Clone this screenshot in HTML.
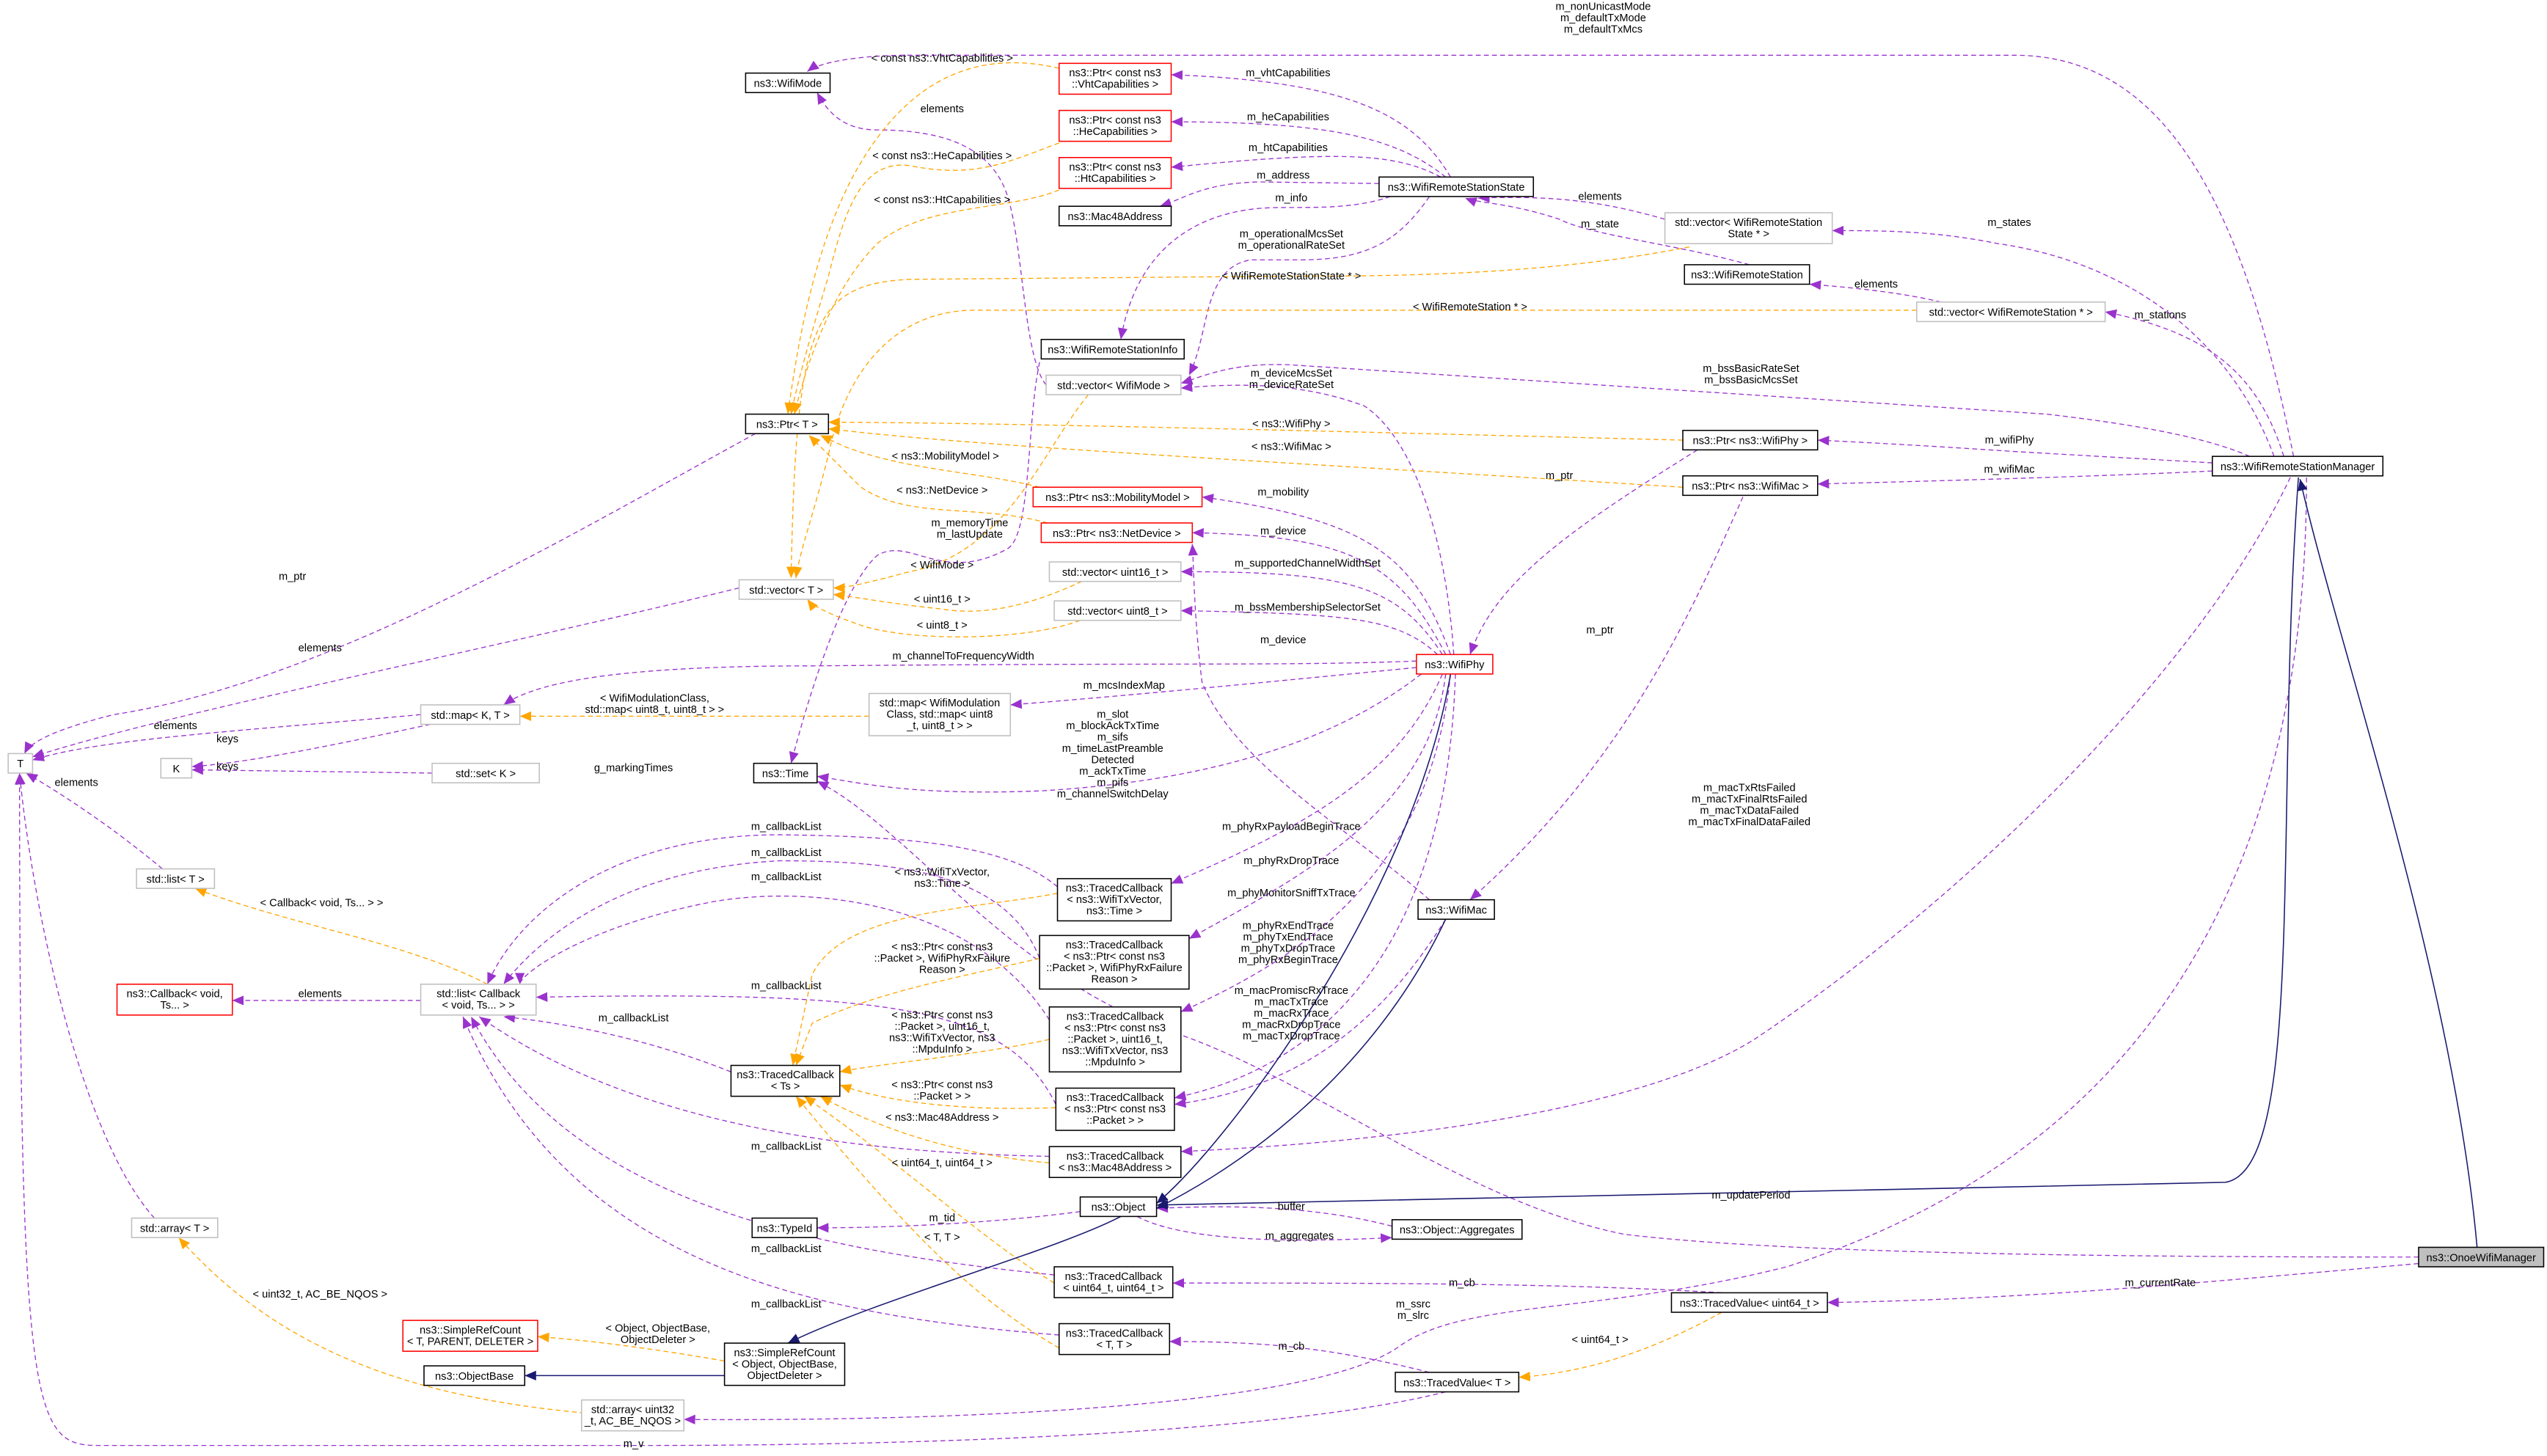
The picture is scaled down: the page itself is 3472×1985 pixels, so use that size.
<!DOCTYPE html>
<html><head><meta charset="utf-8"><style>
html,body{margin:0;padding:0;background:#fff;}
svg{display:block;}
text{font-family:"Liberation Sans",sans-serif;font-size:6.6px;fill:#000;}
.n text{text-anchor:middle;}
.p{fill:none;stroke:#9a32cd;stroke-width:0.6;stroke-dasharray:3,2;marker-end:url(#mp);}
.o{fill:none;stroke:orange;stroke-width:0.6;stroke-dasharray:3,2;marker-end:url(#mo);}
.b{fill:none;stroke:midnightblue;stroke-width:0.7;marker-end:url(#mb);}
.l{text-anchor:middle;}
</style></head><body>
<svg width="3472" height="1985" viewBox="0 0 1568 896.5" xmlns="http://www.w3.org/2000/svg">
<defs>
<marker id="mp" markerWidth="8" markerHeight="8" refX="7" refY="4" orient="auto" markerUnits="userSpaceOnUse"><path d="M0,1 L7,4 L0,7z" fill="#9a32cd"/></marker>
<marker id="mo" markerWidth="8" markerHeight="8" refX="7" refY="4" orient="auto" markerUnits="userSpaceOnUse"><path d="M0,1 L7,4 L0,7z" fill="orange"/></marker>
<marker id="mb" markerWidth="8" markerHeight="8" refX="7" refY="4" orient="auto" markerUnits="userSpaceOnUse"><path d="M0,1 L7,4 L0,7z" fill="midnightblue"/></marker>
</defs>
<rect width="1568" height="896.5" fill="#fff"/>

<!-- purple edges -->
<path class="p" d="M1412,281 C1380,120 1330,34 1240,34 L560,34 C530,34 505,38 497,44"/>
<path class="p" d="M893,109 C870,70 830,50 721,46"/>
<path class="p" d="M890,109 C860,85 820,75 721,75"/>
<path class="p" d="M887,109 C860,95 830,92 721,103"/>
<path class="p" d="M849,113 L775,112 C740,113 730,122 714,127"/>
<path class="p" d="M856,121 C830,130 800,127 780,128 C740,130 700,150 690,209"/>
<path class="p" d="M880,121 C860,150 840,160 800,160 L770,160 C740,165 745,205 732,231"/>
<path class="p" d="M1025,135 C990,125 960,120 910,122"/>
<path class="p" d="M1077,163 C1030,150 980,145 960,135 C930,125 910,125 902,122"/>
<path class="p" d="M1195,186 C1170,180 1140,177 1114,175"/>
<path class="p" d="M1400,281 C1370,200 1300,160 1230,150 C1190,142 1160,142 1128,142"/>
<path class="p" d="M1406,281 C1390,230 1360,205 1296,192"/>
<path class="p" d="M1385,281 C1360,270 1320,262 1260,255 L800,225 C760,222 740,232 727,236"/>
<path class="p" d="M1362,285 L1240,278 C1180,274 1140,272 1119,271"/>
<path class="p" d="M1362,290 C1300,293 1200,296 1119,298"/>
<path class="p" d="M1045,277 C960,330 920,360 905,403"/>
<path class="p" d="M1073,306 C1040,380 1000,470 905,554"/>
<path class="p" d="M895,403 C890,330 870,270 840,250 C800,235 760,236 727,239"/>
<path class="p" d="M893,403 C870,340 840,320 740,306"/>
<path class="p" d="M890,403 C860,345 830,330 734,328"/>
<path class="p" d="M888,403 C860,360 830,352 727,352"/>
<path class="p" d="M885,403 C860,380 830,378 727,376"/>
<path class="p" d="M880,554 C830,510 760,470 740,420 C735,380 735,350 734,335"/>
<path class="p" d="M872,407 C800,410 720,408 500,410 C380,410 330,420 310,434"/>
<path class="p" d="M872,411 C800,418 700,428 622,434"/>
<path class="p" d="M875,415 C830,450 760,480 640,487 C560,490 530,482 503,478"/>
<path class="p" d="M888,415 C860,480 800,510 721,544"/>
<path class="p" d="M890,415 C880,500 800,540 732,578"/>
<path class="p" d="M893,415 C880,540 800,590 727,623"/>
<path class="p" d="M896,415 C890,600 800,660 723,676"/>
<path class="p" d="M890,566 C850,630 800,670 723,680"/>
<path class="p" d="M1410,294 C1350,420 1200,560 1080,640 C1000,690 820,705 727,709"/>
<path class="p" d="M1489,774 C1300,774 1100,772 1000,760 C900,740 800,660 720,635 C620,600 560,510 503,481"/>
<path class="p" d="M1420,294 C1420,500 1350,700 1100,780 C980,810 900,800 860,830 C800,870 550,875 421,874"/>
<path class="p" d="M1489,778 C1350,790 1250,800 1125,802"/>
<path class="p" d="M1060,796 C960,790 850,790 722,790"/>
<path class="p" d="M880,845 C820,830 780,826 720,826"/>
<path class="p" d="M890,857 C800,880 600,890 400,890 L60,890 C20,890 12,870 12,476"/>
<path class="p" d="M465,267 C350,330 200,420 70,440 C30,450 18,458 15,464"/>
<path class="p" d="M455,362 C300,400 100,440 20,466"/>
<path class="p" d="M259,440 C150,450 60,455 20,468"/>
<path class="p" d="M265,446 C200,460 150,470 118,472"/>
<path class="p" d="M266,476 L118,474"/>
<path class="p" d="M100,535 C70,510 40,490 16,476"/>
<path class="p" d="M95,750 C50,700 20,560 12,476"/>
<path class="p" d="M259,616 L143,616"/>
<path class="p" d="M450,660 C400,640 350,630 310,626"/>
<path class="p" d="M651,546 C620,520 560,515 480,514 C380,514 320,560 300,606"/>
<path class="p" d="M640,590 C620,540 560,530 480,530 C380,535 330,580 310,606"/>
<path class="p" d="M646,628 C600,555 500,545 440,555 C360,570 320,600 320,606"/>
<path class="p" d="M650,680 C620,620 550,610 330,614"/>
<path class="p" d="M646,712 C550,710 400,700 295,626"/>
<path class="p" d="M649,785 C500,770 350,740 290,626"/>
<path class="p" d="M652,822 C500,810 350,780 285,626"/>
<path class="p" d="M665,746 C620,752 560,756 503,756"/>
<path class="p" d="M700,749 C730,765 800,765 857,762"/>
<path class="p" d="M857,755 C800,740 740,743 712,744"/>
<path class="p" d="M644,237 C630,220 630,150 620,120 C610,90 580,80 540,80 C520,80 510,70 503,57"/>
<path class="p" d="M640,223 C632,260 635,330 620,338 C580,360 560,330 540,342 C520,360 500,420 487,470"/>

<!-- orange edges -->
<path class="o" d="M652,42 C600,30 560,50 530,100 C500,150 490,220 485,255"/>
<path class="o" d="M652,88 C620,100 600,110 560,102 C530,98 520,130 510,170 C495,220 490,240 487,255"/>
<path class="o" d="M652,117 C620,130 570,125 540,150 C510,180 495,230 489,255"/>
<path class="o" d="M1036,271 C800,265 600,260 510,260"/>
<path class="o" d="M1036,300 C800,285 600,275 510,264"/>
<path class="o" d="M640,300 C600,290 560,290 520,275 L505,268"/>
<path class="o" d="M645,322 C600,310 560,320 530,300 C515,285 505,275 498,268"/>
<path class="o" d="M1040,152 C950,170 850,170 800,170 L560,172 C500,175 490,200 487,356"/>
<path class="o" d="M1180,191 L600,191 C550,191 520,230 510,280 C500,320 492,340 490,356"/>
<path class="o" d="M670,243 C640,280 620,340 560,352 C530,360 520,362 513,362"/>
<path class="o" d="M666,358 C640,370 610,380 580,375 C550,372 530,368 513,366"/>
<path class="o" d="M665,382 C630,395 560,395 530,385 C510,378 500,373 497,369"/>
<path class="o" d="M535,441 L320,441"/>
<path class="o" d="M300,606 C250,580 180,570 120,547"/>
<path class="o" d="M651,550 C600,560 520,560 500,600 L488,656"/>
<path class="o" d="M640,590 C600,600 540,610 500,630 L490,656"/>
<path class="o" d="M646,640 C600,650 540,655 517,660"/>
<path class="o" d="M650,682 C600,684 550,680 517,668"/>
<path class="o" d="M646,716 C600,712 550,700 505,675"/>
<path class="o" d="M649,790 C600,760 560,720 495,675"/>
<path class="o" d="M652,830 C600,800 560,760 490,675"/>
<path class="o" d="M446,838 C400,830 360,825 331,823"/>
<path class="o" d="M360,870 C250,860 170,830 110,762"/>
<path class="o" d="M1060,808 C1020,830 980,845 935,848"/>

<!-- blue edges -->
<path class="b" d="M893,415 C870,550 760,700 712,741"/>
<path class="b" d="M890,566 C850,650 780,710 712,744"/>
<path class="b" d="M1415,294 C1400,500 1420,720 1370,728 L712,742"/>
<path class="b" d="M1525,768 C1510,600 1440,400 1416,295"/>
<path class="b" d="M690,749 C650,770 540,800 485,827"/>
<path class="b" d="M446,847 L323,847"/>

<!-- edge labels -->
<g class="l">
<text x="987" y="6">m_nonUnicastMode</text><text x="987" y="13">m_defaultTxMode</text><text x="987" y="20">m_defaultTxMcs</text>
<text x="793" y="47">m_vhtCapabilities</text>
<text x="793" y="74">m_heCapabilities</text>
<text x="793" y="93">m_htCapabilities</text>
<text x="790" y="110">m_address</text>
<text x="795" y="124">m_info</text>
<text x="795" y="146">m_operationalMcsSet</text><text x="795" y="153">m_operationalRateSet</text>
<text x="795" y="172">&lt; WifiRemoteStationState * &gt;</text>
<text x="985" y="123">elements</text>
<text x="985" y="140">m_state</text>
<text x="1155" y="177">elements</text>
<text x="1237" y="139">m_states</text>
<text x="1330" y="196">m_stations</text>
<text x="905" y="191">&lt; WifiRemoteStation * &gt;</text>
<text x="580" y="38">&lt; const ns3::VhtCapabilities &gt;</text>
<text x="580" y="69">elements</text>
<text x="580" y="98">&lt; const ns3::HeCapabilities &gt;</text>
<text x="580" y="125">&lt; const ns3::HtCapabilities &gt;</text>
<text x="1078" y="229">m_bssBasicRateSet</text><text x="1078" y="236">m_bssBasicMcsSet</text>
<text x="795" y="232">m_deviceMcsSet</text><text x="795" y="239">m_deviceRateSet</text>
<text x="795" y="263">&lt; ns3::WifiPhy &gt;</text>
<text x="795" y="277">&lt; ns3::WifiMac &gt;</text>
<text x="1237" y="273">m_wifiPhy</text>
<text x="1237" y="291">m_wifiMac</text>
<text x="960" y="295">m_ptr</text>
<text x="985" y="390">m_ptr</text>
<text x="582" y="283">&lt; ns3::MobilityModel &gt;</text>
<text x="580" y="304">&lt; ns3::NetDevice &gt;</text>
<text x="790" y="305">m_mobility</text>
<text x="790" y="329">m_device</text>
<text x="597" y="324">m_memoryTime</text><text x="597" y="331">m_lastUpdate</text>
<text x="580" y="350">&lt; WifiMode &gt;</text>
<text x="580" y="371">&lt; uint16_t &gt;</text>
<text x="580" y="387">&lt; uint8_t &gt;</text>
<text x="805" y="349">m_supportedChannelWidthSet</text>
<text x="805" y="376">m_bssMembershipSelectorSet</text>
<text x="790" y="396">m_device</text>
<text x="180" y="357">m_ptr</text>
<text x="197" y="401">elements</text>
<text x="593" y="406">m_channelToFrequencyWidth</text>
<text x="692" y="424">m_mcsIndexMap</text>
<text x="403" y="432">&lt; WifiModulationClass,</text><text x="403" y="439">std::map&lt; uint8_t, uint8_t &gt; &gt;</text>
<text x="108" y="449">elements</text>
<text x="140" y="457">keys</text>
<text x="140" y="474">keys</text>
<text x="390" y="475">g_markingTimes</text>
<text x="685" y="442">m_slot</text><text x="685" y="449">m_blockAckTxTime</text><text x="685" y="456">m_sifs</text><text x="685" y="463">m_timeLastPreamble</text><text x="685" y="470">Detected</text><text x="685" y="477">m_ackTxTime</text><text x="685" y="484">m_pifs</text><text x="685" y="491">m_channelSwitchDelay</text>
<text x="1077" y="487">m_macTxRtsFailed</text><text x="1077" y="494">m_macTxFinalRtsFailed</text><text x="1077" y="501">m_macTxDataFailed</text><text x="1077" y="508">m_macTxFinalDataFailed</text>
<text x="47" y="484">elements</text>
<text x="795" y="511">m_phyRxPayloadBeginTrace</text>
<text x="795" y="532">m_phyRxDropTrace</text>
<text x="795" y="552">m_phyMonitorSniffTxTrace</text>
<text x="793" y="572">m_phyRxEndTrace</text><text x="793" y="579">m_phyTxEndTrace</text><text x="793" y="586">m_phyTxDropTrace</text><text x="793" y="593">m_phyRxBeginTrace</text>
<text x="795" y="612">m_macPromiscRxTrace</text><text x="795" y="619">m_macTxTrace</text><text x="795" y="626">m_macRxTrace</text><text x="795" y="633">m_macRxDropTrace</text><text x="795" y="640">m_macTxDropTrace</text>
<text x="484" y="511">m_callbackList</text>
<text x="484" y="527">m_callbackList</text>
<text x="484" y="542">m_callbackList</text>
<text x="580" y="539">&lt; ns3::WifiTxVector,</text><text x="580" y="546">ns3::Time &gt;</text>
<text x="198" y="558">&lt; Callback&lt; void, Ts... &gt; &gt;</text>
<text x="580" y="585">&lt; ns3::Ptr&lt; const ns3</text><text x="580" y="592">::Packet &gt;, WifiPhyRxFailure</text><text x="580" y="599">Reason &gt;</text>
<text x="197" y="614">elements</text>
<text x="484" y="609">m_callbackList</text>
<text x="390" y="629">m_callbackList</text>
<text x="580" y="627">&lt; ns3::Ptr&lt; const ns3</text><text x="580" y="634">::Packet &gt;, uint16_t,</text><text x="580" y="641">ns3::WifiTxVector, ns3</text><text x="580" y="648">::MpduInfo &gt;</text>
<text x="580" y="670">&lt; ns3::Ptr&lt; const ns3</text><text x="580" y="677">::Packet &gt; &gt;</text>
<text x="580" y="690">&lt; ns3::Mac48Address &gt;</text>
<text x="484" y="708">m_callbackList</text>
<text x="580" y="718">&lt; uint64_t, uint64_t &gt;</text>
<text x="1078" y="738">m_updatePeriod</text>
<text x="795" y="745">buffer</text>
<text x="580" y="752">m_tid</text>
<text x="580" y="764">&lt; T, T &gt;</text>
<text x="800" y="763">m_aggregates</text>
<text x="484" y="771">m_callbackList</text>
<text x="900" y="792">m_cb</text>
<text x="1330" y="792">m_currentRate</text>
<text x="197" y="799">&lt; uint32_t, AC_BE_NQOS &gt;</text>
<text x="484" y="805">m_callbackList</text>
<text x="870" y="805">m_ssrc</text><text x="870" y="812">m_slrc</text>
<text x="405" y="820">&lt; Object, ObjectBase,</text><text x="405" y="827">ObjectDeleter &gt;</text>
<text x="985" y="827">&lt; uint64_t &gt;</text>
<text x="795" y="831">m_cb</text>
<text x="390" y="891">m_v</text>
</g>

<!-- nodes -->
<g class="n" stroke-width="0.7">
<rect x="459" y="45" width="52" height="12" fill="#fff" stroke="#000"/><text x="485" y="53.5">ns3::WifiMode</text>
<rect x="652" y="39" width="69" height="19" fill="#fff" stroke="red"/><text x="686.5" y="47">ns3::Ptr&lt; const ns3</text><text x="686.5" y="54">::VhtCapabilities &gt;</text>
<rect x="652" y="68" width="69" height="19" fill="#fff" stroke="red"/><text x="686.5" y="76">ns3::Ptr&lt; const ns3</text><text x="686.5" y="83">::HeCapabilities &gt;</text>
<rect x="652" y="97" width="69" height="19" fill="#fff" stroke="red"/><text x="686.5" y="105">ns3::Ptr&lt; const ns3</text><text x="686.5" y="112">::HtCapabilities &gt;</text>
<rect x="652" y="127" width="69" height="12" fill="#fff" stroke="#000"/><text x="686.5" y="135.5">ns3::Mac48Address</text>
<rect x="849" y="109" width="95" height="12" fill="#fff" stroke="#000"/><text x="896.5" y="117.5">ns3::WifiRemoteStationState</text>
<rect x="1025" y="131" width="103" height="19" fill="#fff" stroke="#bfbfbf"/><text x="1076.5" y="139">std::vector&lt; WifiRemoteStation</text><text x="1076.5" y="146">State * &gt;</text>
<rect x="1037" y="163" width="77" height="12" fill="#fff" stroke="#000"/><text x="1075.5" y="171.5">ns3::WifiRemoteStation</text>
<rect x="1180" y="186" width="116" height="12" fill="#fff" stroke="#bfbfbf"/><text x="1238" y="194.5">std::vector&lt; WifiRemoteStation * &gt;</text>
<rect x="641" y="209" width="88" height="12" fill="#fff" stroke="#000"/><text x="685" y="217.5">ns3::WifiRemoteStationInfo</text>
<rect x="644" y="231" width="83" height="12" fill="#fff" stroke="#bfbfbf"/><text x="685.5" y="239.5">std::vector&lt; WifiMode &gt;</text>
<rect x="459" y="255" width="51" height="12" fill="#fff" stroke="#000"/><text x="484.5" y="263.5">ns3::Ptr&lt; T &gt;</text>
<rect x="1036" y="265" width="83" height="12" fill="#fff" stroke="#000"/><text x="1077.5" y="273.5">ns3::Ptr&lt; ns3::WifiPhy &gt;</text>
<rect x="1036" y="293" width="83" height="12" fill="#fff" stroke="#000"/><text x="1077.5" y="301.5">ns3::Ptr&lt; ns3::WifiMac &gt;</text>
<rect x="1362" y="281" width="105" height="12" fill="#fff" stroke="#000"/><text x="1414.5" y="289.5">ns3::WifiRemoteStationManager</text>
<rect x="636" y="300" width="104" height="12" fill="#fff" stroke="red"/><text x="688" y="308.5">ns3::Ptr&lt; ns3::MobilityModel &gt;</text>
<rect x="641" y="322" width="93" height="12" fill="#fff" stroke="red"/><text x="687.5" y="330.5">ns3::Ptr&lt; ns3::NetDevice &gt;</text>
<rect x="646" y="346" width="81" height="12" fill="#fff" stroke="#bfbfbf"/><text x="686.5" y="354.5">std::vector&lt; uint16_t &gt;</text>
<rect x="649" y="370" width="78" height="12" fill="#fff" stroke="#bfbfbf"/><text x="688" y="378.5">std::vector&lt; uint8_t &gt;</text>
<rect x="455" y="357" width="58" height="12" fill="#fff" stroke="#bfbfbf"/><text x="484" y="365.5">std::vector&lt; T &gt;</text>
<rect x="872" y="403" width="47" height="12" fill="#fff" stroke="red"/><text x="895.5" y="411.5">ns3::WifiPhy</text>
<rect x="259" y="434" width="61" height="12" fill="#fff" stroke="#bfbfbf"/><text x="289.5" y="442.5">std::map&lt; K, T &gt;</text>
<rect x="535" y="427" width="87" height="26" fill="#fff" stroke="#bfbfbf"/><text x="578.5" y="435">std::map&lt; WifiModulation</text><text x="578.5" y="442">Class, std::map&lt; uint8</text><text x="578.5" y="449">_t, uint8_t &gt; &gt;</text>
<rect x="5" y="464" width="15" height="12" fill="#fff" stroke="#bfbfbf"/><text x="12.5" y="472.5">T</text>
<rect x="99" y="467" width="19" height="12" fill="#fff" stroke="#bfbfbf"/><text x="108.5" y="475.5">K</text>
<rect x="266" y="470" width="66" height="12" fill="#fff" stroke="#bfbfbf"/><text x="299" y="478.5">std::set&lt; K &gt;</text>
<rect x="464" y="470" width="39" height="12" fill="#fff" stroke="#000"/><text x="483.5" y="478.5">ns3::Time</text>
<rect x="84" y="535" width="48" height="12" fill="#fff" stroke="#bfbfbf"/><text x="108" y="543.5">std::list&lt; T &gt;</text>
<rect x="651" y="541" width="70" height="26" fill="#fff" stroke="#000"/><text x="686" y="549">ns3::TracedCallback</text><text x="686" y="556">&lt; ns3::WifiTxVector,</text><text x="686" y="563">ns3::Time &gt;</text>
<rect x="873" y="554" width="47" height="12" fill="#fff" stroke="#000"/><text x="896.5" y="562.5">ns3::WifiMac</text>
<rect x="640" y="576" width="92" height="33" fill="#fff" stroke="#000"/><text x="686" y="584">ns3::TracedCallback</text><text x="686" y="591">&lt; ns3::Ptr&lt; const ns3</text><text x="686" y="598">::Packet &gt;, WifiPhyRxFailure</text><text x="686" y="605">Reason &gt;</text>
<rect x="259" y="606" width="71" height="19" fill="#fff" stroke="#bfbfbf"/><text x="294.5" y="614">std::list&lt; Callback</text><text x="294.5" y="621">&lt; void, Ts... &gt; &gt;</text>
<rect x="72" y="606" width="71" height="19" fill="#fff" stroke="red"/><text x="107.5" y="614">ns3::Callback&lt; void,</text><text x="107.5" y="621">Ts... &gt;</text>
<rect x="646" y="620" width="81" height="40" fill="#fff" stroke="#000"/><text x="686.5" y="628">ns3::TracedCallback</text><text x="686.5" y="635">&lt; ns3::Ptr&lt; const ns3</text><text x="686.5" y="642">::Packet &gt;, uint16_t,</text><text x="686.5" y="649">ns3::WifiTxVector, ns3</text><text x="686.5" y="656">::MpduInfo &gt;</text>
<rect x="450" y="656" width="67" height="19" fill="#fff" stroke="#000"/><text x="483.5" y="664">ns3::TracedCallback</text><text x="483.5" y="671">&lt; Ts &gt;</text>
<rect x="650" y="670" width="73" height="26" fill="#fff" stroke="#000"/><text x="686.5" y="678">ns3::TracedCallback</text><text x="686.5" y="685">&lt; ns3::Ptr&lt; const ns3</text><text x="686.5" y="692">::Packet &gt; &gt;</text>
<rect x="646" y="706" width="81" height="19" fill="#fff" stroke="#000"/><text x="686.5" y="714">ns3::TracedCallback</text><text x="686.5" y="721">&lt; ns3::Mac48Address &gt;</text>
<rect x="665" y="737" width="47" height="12" fill="#fff" stroke="#000"/><text x="688.5" y="745.5">ns3::Object</text>
<rect x="463" y="750" width="40" height="12" fill="#fff" stroke="#000"/><text x="483" y="758.5">ns3::TypeId</text>
<rect x="81" y="750" width="53" height="12" fill="#fff" stroke="#bfbfbf"/><text x="107.5" y="758.5">std::array&lt; T &gt;</text>
<rect x="857" y="751" width="80" height="12" fill="#fff" stroke="#000"/><text x="897" y="759.5">ns3::Object::Aggregates</text>
<rect x="1489" y="768" width="77" height="12" fill="#bfbfbf" stroke="#000"/><text x="1527.5" y="776.5">ns3::OnoeWifiManager</text>
<rect x="649" y="780" width="73" height="19" fill="#fff" stroke="#000"/><text x="685.5" y="788">ns3::TracedCallback</text><text x="685.5" y="795">&lt; uint64_t, uint64_t &gt;</text>
<rect x="1029" y="796" width="96" height="12" fill="#fff" stroke="#000"/><text x="1077" y="804.5">ns3::TracedValue&lt; uint64_t &gt;</text>
<rect x="248" y="813" width="83" height="19" fill="#fff" stroke="red"/><text x="289.5" y="821">ns3::SimpleRefCount</text><text x="289.5" y="828">&lt; T, PARENT, DELETER &gt;</text>
<rect x="652" y="815" width="68" height="19" fill="#fff" stroke="#000"/><text x="686" y="823">ns3::TracedCallback</text><text x="686" y="830">&lt; T, T &gt;</text>
<rect x="446" y="827" width="74" height="26" fill="#fff" stroke="#000"/><text x="483" y="835">ns3::SimpleRefCount</text><text x="483" y="842">&lt; Object, ObjectBase,</text><text x="483" y="849">ObjectDeleter &gt;</text>
<rect x="261" y="841" width="62" height="12" fill="#fff" stroke="#000"/><text x="292" y="849.5">ns3::ObjectBase</text>
<rect x="859" y="845" width="76" height="12" fill="#fff" stroke="#000"/><text x="897" y="853.5">ns3::TracedValue&lt; T &gt;</text>
<rect x="358" y="862" width="63" height="19" fill="#fff" stroke="#bfbfbf"/><text x="389.5" y="870">std::array&lt; uint32</text><text x="389.5" y="877">_t, AC_BE_NQOS &gt;</text>
</g>
</svg>
</body></html>
